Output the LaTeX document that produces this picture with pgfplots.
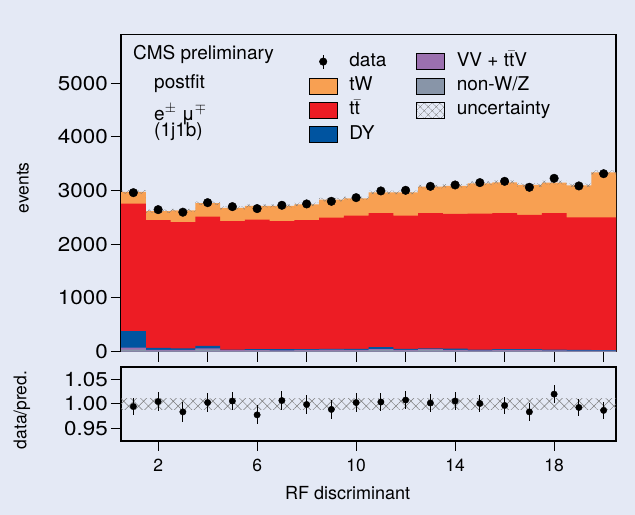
\documentclass[border=0pt]{standalone}
\usepackage{pgfplots}
\pgfplotsset{compat=1.18}
\usepackage{pgfplotstable}
\usetikzlibrary{patterns.meta}
\usepackage{fontspec}
\setmainfont{TeX Gyre Heros}
\newfontfamily\tickfont[FakeStretch=1.12]{TeX Gyre Heros}
\definecolor{bgc}{RGB}{228,233,245}
\definecolor{tWc}{RGB}{248,160,82}
\definecolor{ttc}{RGB}{237,28,36}
\definecolor{dyc}{RGB}{0,84,160}
\definecolor{vvc}{RGB}{155,112,175}
\definecolor{gzc}{RGB}{136,149,168}
\definecolor{hatchc}{RGB}{120,120,120}

\pgfplotstableread{
edge gz vv dy tt tot
0.5 40 75 385 2757 2974
1.5 20 35 70 2448 2615
2.5 18 32 60 2411 2630
3.5 40 60 110 2515 2764
4.5 15 27 37 2429 2677
5.5 18 30 50 2460 2714
6.5 15 25 50 2429 2714
7.5 20 35 50 2448 2745
8.5 22 37 52 2497 2831
9.5 20 34 54 2534 2856
10.5 30 50 87 2578 2968
11.5 20 34 54 2534 2968
12.5 35 50 60 2578 3073
13.5 20 32 57 2565 3086
14.5 15 25 40 2571 3135
15.5 20 32 47 2578 3154
16.5 20 32 47 2546 3104
17.5 15 25 37 2578 3148
18.5 12 22 32 2503 3098
19.5 12 20 28 2503 3340
20.5 12 20 28 2503 3340
}\histo

\pgfplotstableread{
x d de r re
1 2961 54 0.995 0.018
2 2645 51 1.005 0.020
3 2597 51 0.984 0.020
4 2775 53 1.003 0.019
5 2701 52 1.006 0.019
6 2664 52 0.978 0.019
7 2726 52 1.007 0.019
8 2751 52 0.999 0.019
9 2800 53 0.989 0.019
10 2868 54 1.003 0.019
11 2993 55 1.004 0.018
12 3005 55 1.008 0.018
13 3079 55 1.002 0.018
14 3104 56 1.006 0.018
15 3148 56 1.001 0.018
16 3172 56 0.997 0.018
17 3061 55 0.984 0.018
18 3228 57 1.020 0.018
19 3086 56 0.993 0.018
20 3314 58 0.987 0.017
}\datatab

\pgfplotsset{
  patchleg/.style={legend image code/.code={\fill[##1] (0bp,-8bp) rectangle (28bp,8bp);}},
  dataleg/.style={legend image code/.code={\draw[black,line width=0.9bp] (14bp,-7bp) -- (14bp,7bp); \fill[black] (14bp,0bp) circle (3.8bp);}},
  hatchleg/.style={legend image code/.code={\fill[pattern={Hatch[angle=45,distance=6bp,line width=0.5bp]}, pattern color=hatchc] (0bp,-8bp) rectangle (28bp,8bp);}},
  common/.style={
    scale only axis, width=495bp,
    xmin=0.5, xmax=20.5,
    axis line style={line width=1.3bp},
    tick style={black, line width=1bp},
    major tick length=10bp,
    tick align=outside,
    xtick pos=left, ytick pos=left,
    /pgf/number format/assume math mode=true,
    /pgf/number format/1000 sep={},
    yticklabel style={font=\tickfont\fontsize{20bp}{23bp}\selectfont, inner sep=0pt, xshift=-3bp},
    xticklabel style={font=\fontsize{17.5bp}{20bp}\selectfont, yshift=-5bp},
    label style={font=\fontsize{17.5bp}{20bp}\selectfont},
  },
}

\begin{document}
\begin{tikzpicture}
\path[use as bounding box] (0bp,0bp) rectangle (635bp,515bp);
\fill[bgc] (0bp,0bp) rectangle (635bp,515bp);

\begin{axis}[common,
  at={(121bp,163.3bp)}, anchor=south west, height=316.9bp,
  ymin=0, ymax=5900,
  xtick={2,4,...,20}, xticklabels={},
  ytick={0,1000,...,5000},
  ylabel={events},
  ylabel style={at={(axis description cs:-0.198,0.517)}, anchor=center},
  legend cell align=left,
  legend columns=2,
  legend style={at={(axis description cs:0.3798,0.943)}, anchor=north west,
    draw=none, fill=none, inner sep=0pt, outer sep=0pt,
    font=\fontsize{19bp}{22bp}\selectfont,
    row sep=6.8bp,
    nodes={inner sep=0pt, text height=13.5bp, text depth=4bp},
    /tikz/every odd column/.append style={column sep=12bp},
    /tikz/every even column/.append style={column sep=30bp}},
]
\addlegendimage{dataleg}
\addlegendentry{data}
\addlegendimage{patchleg, fill=vvc}
\addlegendentry{VV + t$\bar{\mathrm{t}}$V}
\addlegendimage{patchleg, fill=tWc}
\addlegendentry{tW}
\addlegendimage{patchleg, fill=gzc}
\addlegendentry{non-W/Z}
\addlegendimage{patchleg, fill=ttc}
\addlegendentry{t$\bar{\mathrm{t}}$}
\addlegendimage{hatchleg}
\addlegendentry{uncertainty}
\addlegendimage{patchleg, fill=dyc}
\addlegendentry{DY}

\addplot[const plot, fill=tWc, draw=none, forget plot] table[x=edge, y=tot] {\histo} \closedcycle;
\addplot[const plot, fill=ttc, draw=none, forget plot] table[x=edge, y=tt] {\histo} \closedcycle;
\addplot[const plot, fill=dyc, draw=none, forget plot] table[x=edge, y=dy] {\histo} \closedcycle;
\addplot[const plot, fill=vvc, draw=none, forget plot] table[x=edge, y=vv] {\histo} \closedcycle;
\addplot[const plot, fill=gzc, draw=none, forget plot] table[x=edge, y=gz] {\histo} \closedcycle;

% uncertainty band: upper edge forward, lower edge backward
\addplot[const plot, draw=none, forget plot,
  pattern={Hatch[angle=45,distance=6bp,line width=0.5bp]}, pattern color=hatchc]
  coordinates {(0.5,3007)(1.5,2644)(2.5,2659)(3.5,2794)(4.5,2706)(5.5,2744)(6.5,2744)(7.5,2775)(8.5,2862)(9.5,2887)(10.5,3001)(11.5,3001)(12.5,3107)(13.5,3120)(14.5,3169)(15.5,3189)(16.5,3138)(17.5,3183)(18.5,3132)(19.5,3377)(20.5,3377)
  (20.5,3303)(19.5,3064)(18.5,3113)(17.5,3070)(16.5,3119)(15.5,3101)(14.5,3052)(13.5,3039)(12.5,2935)(11.5,2935)(10.5,2825)(9.5,2800)(8.5,2715)(7.5,2684)(6.5,2684)(5.5,2648)(4.5,2734)(3.5,2601)(2.5,2586)(1.5,2941)(0.5,2941)} -- cycle;

\addplot[only marks, mark=*, mark size=4.3bp, black, forget plot,
  error bars/.cd, y dir=both, y explicit, error mark=none,
  error bar style={line width=1bp}]
  table[x=x, y=d, y error=de] {\datatab};

\node[anchor=base west, inner sep=0pt, font=\fontsize{19bp}{22bp}\selectfont] at (axis description cs:0.0242,0.9205) {CMS preliminary};
\node[anchor=base west, inner sep=0pt, font=\fontsize{19bp}{22bp}\selectfont] at (axis description cs:0.0667,0.829) {postfit};
\node[anchor=base west, inner sep=0pt, font=\fontsize{19bp}{22bp}\selectfont] at (axis description cs:0.0667,0.731) {e$^{\pm}$ μ$^{\mp}$};
\node[anchor=base west, inner sep=0pt, font=\fontsize{19bp}{22bp}\selectfont] at (axis description cs:0.0667,0.6775) {(1j1b)};
\node[anchor=base east, inner sep=0pt, font=\fontsize{16.5bp}{19bp}\selectfont] at (axis description cs:0.9626,1.022) {34.7 fb$^{-1}$ (13.6 TeV)};
\end{axis}

\begin{axis}[common,
  at={(121bp,74bp)}, anchor=south west, height=74bp,
  ymin=0.925, ymax=1.075,
  xtick={2,6,10,14,18},
  ytick={0.95,1,1.05}, yticklabels={0.95,1.00,1.05},
  xlabel={RF discriminant},
  xlabel style={at={(axis description cs:0.458,-0.797)}, anchor=base, font=\fontsize{18bp}{21bp}\selectfont},
  ylabel={data/pred.},
  ylabel style={at={(axis description cs:-0.200,0.419)}, anchor=center},
]
\addplot[draw=none, pattern={Hatch[angle=45,distance=7bp,line width=0.5bp]}, pattern color=hatchc]
  coordinates {(0.5,0.989) (20.5,0.989) (20.5,1.011) (0.5,1.011)} -- cycle;
\addplot[only marks, mark=*, mark size=3.2bp, black,
  error bars/.cd, y dir=both, y explicit, error mark=none,
  error bar style={line width=1bp}]
  table[x=x, y=r, y error=re] {\datatab};
\end{axis}
\end{tikzpicture}
\end{document}
